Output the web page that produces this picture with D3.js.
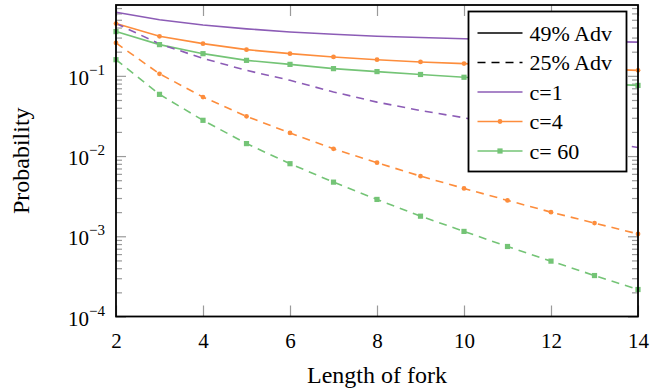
<!DOCTYPE html>
<html>
<head>
<meta charset="utf-8">
<script src="https://cdn.jsdelivr.net/npm/d3@7"></script>
<style>
  html, body { margin: 0; padding: 0; background: #fff; }
  svg { display: block; }
  svg text { font-family: "Liberation Serif", "DejaVu Serif", serif; }
</style>
</head>
<body>
<div id="chart"></div>
<script>
const width = 659;
const height = 391;

// fork length
const forkLength = [2, 3, 4, 5, 6, 7, 8, 9, 10, 11, 12, 13, 14];

// 49% adversary
const c1Adv49 = [0.62, 0.50, 0.43, 0.385, 0.352, 0.33, 0.312, 0.30, 0.29, 0.28, 0.273, 0.268, 0.263];
const c4Adv49 = [0.448, 0.311, 0.252, 0.212, 0.189, 0.172, 0.159, 0.149, 0.142, 0.135, 0.128, 0.122, 0.117];
const c60Adv49 = [0.356, 0.245, 0.189, 0.156, 0.139, 0.123, 0.113, 0.104, 0.096, 0.090, 0.085, 0.080, 0.076];

// 25% adversary
const c1Adv25 = [0.45, 0.25, 0.165, 0.117, 0.088, 0.063, 0.047, 0.037, 0.030, 0.024, 0.0195, 0.0158, 0.0128];
const c4Adv25 = [0.257, 0.106, 0.0544, 0.0313, 0.0194, 0.0123, 0.00826, 0.00562, 0.00395, 0.0028, 0.0020, 0.00146, 0.00107];
const c60Adv25 = [0.159, 0.0588, 0.0279, 0.0143, 0.00803, 0.00473, 0.00288, 0.00178, 0.00115, 0.000746, 0.00049, 0.000324, 0.000217];

const xTicks = [2, 4, 6, 8, 10, 12, 14];
const yMajorTicks = [1e-4, 1e-3, 1e-2, 1e-1];
const yExponents = ['−4', '−3', '−2', '−1'];

const legendLabels = ['49% Adv', '25% Adv', 'c=1', 'c=4', 'c= 60'];

const purple = '#8c5cb6';
const orange = '#fd8d3c';
const green = '#74c476';
const serif = '"Liberation Serif", "DejaVu Serif", serif';

const margin = { top: 5, right: 21, bottom: 74.5, left: 116 };
const chartWidth = width - margin.left - margin.right;
const chartHeight = height - margin.top - margin.bottom;

const series = [
  { values: c1Adv49, color: purple, dashed: false, mark: null },
  { values: c4Adv49, color: orange, dashed: false, mark: 'circle' },
  { values: c60Adv49, color: green, dashed: false, mark: 'square' },
  { values: c1Adv25, color: purple, dashed: true, mark: null },
  { values: c4Adv25, color: orange, dashed: true, mark: 'circle' },
  { values: c60Adv25, color: green, dashed: true, mark: 'square' }
];

const svg = d3.select('#chart')
  .append('svg')
  .attr('width', width)
  .attr('height', height);

const g = svg.append('g')
  .attr('transform', `translate(${margin.left},${margin.top})`);

const x = d3.scaleLinear().domain([2, 14]).range([0, chartWidth]);
const y = d3.scaleLog().domain([1e-4, 0.764]).range([chartHeight, 0]);

const tickColor = '#9a9a9a';
const allYTicks = y.ticks().filter(v => v >= 1e-4 && v <= 0.764);
const isMajor = v => Math.abs(Math.log10(v) - Math.round(Math.log10(v))) < 1e-6;

// ticks on all four sides, pointing inward
function styleTicks(sel) {
  sel.attr('font-family', serif);
  sel.select('.domain').remove();
  sel.selectAll('.tick line').attr('stroke', tickColor).attr('stroke-width', 1.2);
}

g.append('g')
  .attr('transform', `translate(0,${chartHeight})`)
  .call(d3.axisBottom(x).tickValues(xTicks).tickSize(-11).tickPadding(17).tickFormat(d3.format('d')))
  .call(styleTicks)
  .call(s => s.selectAll('.tick text')
    .attr('fill', '#000').style('font-size', '21px'));

g.append('g')
  .call(d3.axisTop(x).tickValues(xTicks).tickSize(-11).tickFormat(''))
  .call(styleTicks);

[['left', 0], ['right', chartWidth]].forEach(([side, pos]) => {
  const maker = side === 'left' ? d3.axisLeft : d3.axisRight;
  g.append('g')
    .attr('transform', `translate(${pos},0)`)
    .call(maker(y).tickValues(allYTicks.filter(v => !isMajor(v))).tickSize(-6).tickFormat(''))
    .call(styleTicks);
  g.append('g')
    .attr('transform', `translate(${pos},0)`)
    .call(maker(y).tickValues(yMajorTicks).tickSize(-10).tickFormat(''))
    .call(styleTicks);
});

// y tick labels 10^k
const yLabels = g.append('g');
yMajorTicks.forEach((v, i) => {
  const t = yLabels.append('text')
    .attr('x', -11)
    .attr('y', y(v) + 9)
    .attr('text-anchor', 'end')
    .style('font-size', '21px');
  t.append('tspan').text('10');
  t.append('tspan').attr('dy', -10).style('font-size', '15px').text(yExponents[i]);
});

// lines
const line = d3.line()
  .x((d, i) => x(forkLength[i]))
  .y(d => y(d));

series.forEach(s => {
  g.append('path')
    .datum(s.values)
    .attr('fill', 'none')
    .attr('stroke', s.color)
    .attr('stroke-width', 1.6)
    .attr('stroke-dasharray', s.dashed ? '8,6' : null)
    .attr('d', line);
});

function drawMark(sel, type, cx, cy, color) {
  if (type === 'circle') {
    sel.append('circle').attr('cx', cx).attr('cy', cy).attr('r', 2.4).attr('fill', color);
  } else if (type === 'square') {
    sel.append('rect').attr('x', cx - 2.6).attr('y', cy - 2.6)
      .attr('width', 5.2).attr('height', 5.2).attr('fill', color);
  }
}

series.filter(s => s.mark).forEach(s => {
  const mg = g.append('g');
  s.values.forEach((v, i) => drawMark(mg, s.mark, x(forkLength[i]), y(v), s.color));
});

// frame
g.append('rect')
  .attr('width', chartWidth)
  .attr('height', chartHeight)
  .attr('fill', 'none')
  .attr('stroke', '#000')
  .attr('stroke-width', 1.8);

// axis titles
svg.append('text')
  .attr('x', margin.left + chartWidth / 2)
  .attr('y', 383)
  .attr('text-anchor', 'middle')
  .style('font-size', '24px')
  .text('Length of fork');

svg.append('text')
  .attr('transform', `translate(29,${margin.top + chartHeight / 2}) rotate(-90)`)
  .attr('text-anchor', 'middle')
  .style('font-size', '24px')
  .text('Probability');

// legend
const legend = svg.append('g').attr('transform', 'translate(468.5,11.5)');
legend.append('rect')
  .attr('width', 158)
  .attr('height', 160)
  .attr('fill', '#fff')
  .attr('stroke', '#000')
  .attr('stroke-width', 1.8);

const legendItems = [
  { color: '#000', dashed: false, mark: null },
  { color: '#000', dashed: true, mark: null },
  { color: purple, dashed: false, mark: null },
  { color: orange, dashed: false, mark: 'circle' },
  { color: green, dashed: false, mark: 'square' }
];

legendItems.forEach((item, i) => {
  const ry = 21.5 + i * 29.5;
  const row = legend.append('g');
  row.append('line')
    .attr('x1', 9).attr('x2', 54)
    .attr('y1', ry).attr('y2', ry)
    .attr('stroke', item.color)
    .attr('stroke-width', 1.6)
    .attr('stroke-dasharray', item.dashed ? '8,6' : null);
  drawMark(row, item.mark, 31.5, ry, item.color);
  row.append('text')
    .attr('x', 61)
    .attr('y', ry + 7.5)
    .style('font-size', '22px')
    .text(legendLabels[i]);
});
</script>
</body>
</html>
